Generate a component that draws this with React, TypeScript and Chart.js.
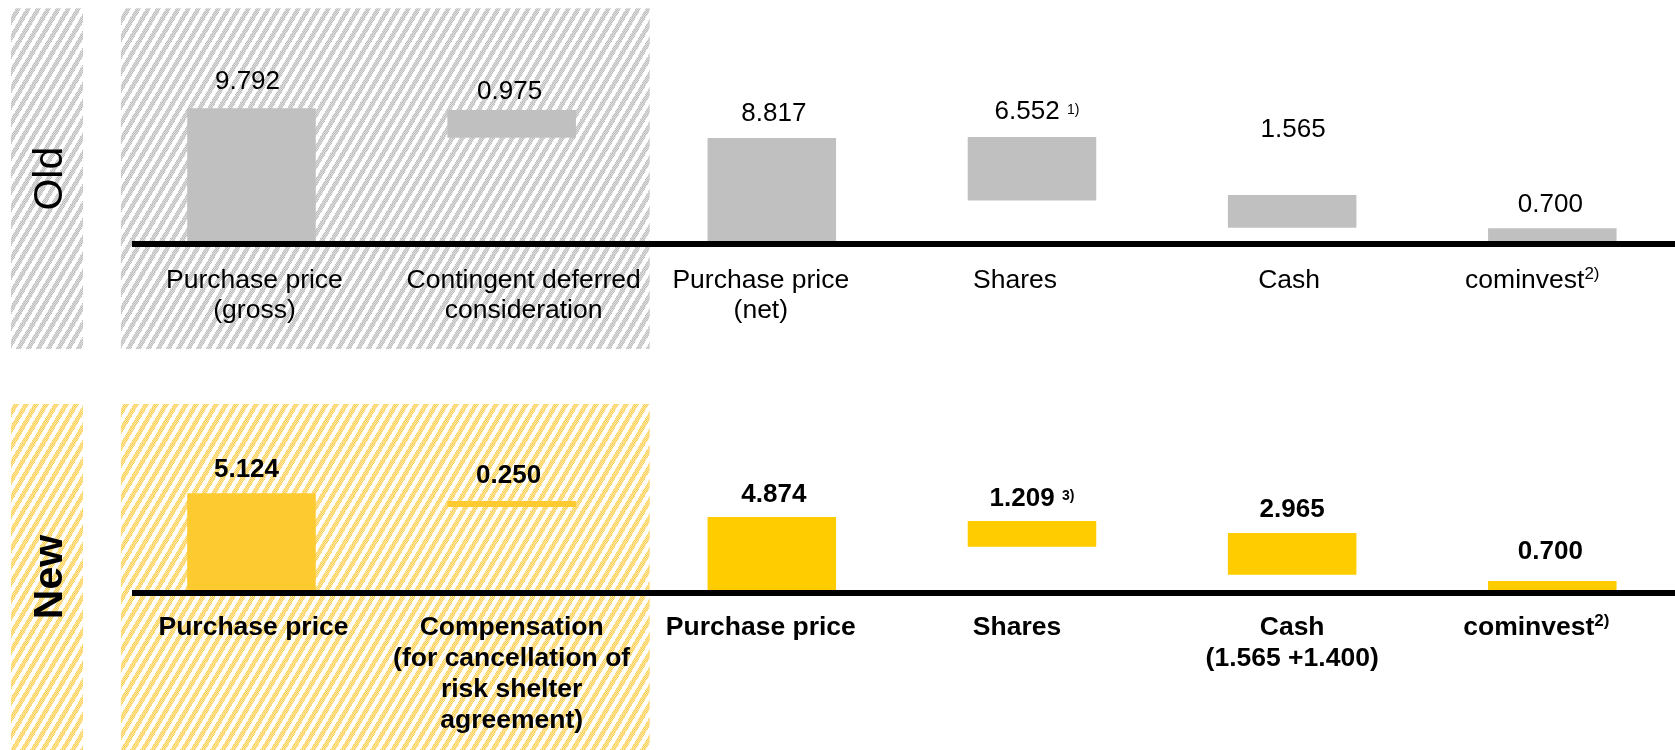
import React, { useEffect, useRef } from 'react';
import { Chart, registerables } from 'chart.js';

Chart.register(...registerables);

// ---------- DATA ----------
// category labels (lines; "^" starts a superscript)
const oldLabels: string[][] = [
  ['Purchase price', '(gross)'],
  ['Contingent deferred', 'consideration'],
  ['Purchase price', '(net)'],
  ['Shares'],
  ['Cash'],
  ['cominvest^2)'],
];
const newLabels: string[][] = [
  ['Purchase price'],
  ['Compensation', '(for cancellation of', 'risk shelter', 'agreement)'],
  ['Purchase price'],
  ['Shares'],
  ['Cash', '(1.565 +1.400)'],
  ['cominvest^2)'],
];

// amounts printed above the bars
const oldAmounts = [9.792, 0.975, 8.817, 6.552, 1.565, 0.7];
const newAmounts = [5.124, 0.25, 4.874, 1.209, 2.965, 0.7];
const oldNotes = ['', '', '', '1)', '', ''];
const newNotes = ['', '', '', '3)', '', ''];

// floating bar extents as drawn in the picture (chart units)
const oldBarLow = [0, 7.62, 0, 2.99, 0.98, 0];
const oldBarHigh = [9.792, 9.67, 7.6, 7.68, 3.39, 0.94];
const newBarLow = [0, 4.4, 0, 2.29, 0.81, 0];
const newBarHigh = [5.124, 4.72, 3.87, 3.66, 3.02, 0.48];

// value axis ranges
const oldScaleMax = 17.79;
const newScaleMax = 11.39;

// ---------- STYLE ----------
const FONT = '"Liberation Sans", Arial, Helvetica, sans-serif';
const CANVAS_W = 1700;
const CANVAS_H = 375;

type Panel = {
  side: string;
  bold: boolean;
  labels: string[][];
  amounts: number[];
  notes: string[];
  low: number[];
  high: number[];
  max: number;
  colors: string[];
  hatchA: string;
  hatchB: string;
  boxTop: number;
  boxBottom: number;
  padBottom: number;
  labelFirst: number;
  labelStep: number;
  valueGap: number[];
  valueDx: number[];
  labelDx: number[];
  valueSupRaise: number;
};

function fontStr(size: number, bold: boolean) {
  return `${bold ? 'bold ' : ''}${size}px ${FONT}`;
}

function drawRich(
  ctx: CanvasRenderingContext2D,
  text: string,
  cx: number,
  baseline: number,
  size: number,
  bold: boolean,
  supSize: number,
  supRaise: number
) {
  const parts = text.split('^');
  const main = parts[0];
  const sup = parts[1] || '';
  ctx.font = fontStr(size, bold);
  const w1 = ctx.measureText(main).width;
  let w2 = 0;
  if (sup) {
    ctx.font = fontStr(supSize, bold);
    w2 = ctx.measureText(sup).width;
  }
  const x0 = cx - (w1 + w2) / 2;
  ctx.textAlign = 'left';
  ctx.textBaseline = 'alphabetic';
  ctx.font = fontStr(size, bold);
  ctx.fillText(main, x0, baseline);
  if (sup) {
    ctx.font = fontStr(supSize, bold);
    ctx.fillText(sup, x0 + w1, baseline - supRaise);
  }
}

function makePattern(ctx: CanvasRenderingContext2D, a: string, b: string) {
  const w = 10;
  const h = 17;
  const tile = document.createElement('canvas');
  tile.width = w;
  tile.height = h;
  const tctx = tile.getContext('2d')!;
  const hex = (c: string) => [
    parseInt(c.slice(1, 3), 16),
    parseInt(c.slice(3, 5), 16),
    parseInt(c.slice(5, 7), 16),
  ];
  const ca = hex(a);
  const cb = hex(b);
  const img = tctx.createImageData(w, h);
  for (let y = 0; y < h; y++) {
    for (let x = 0; x < w; x++) {
      const u = (17 * x + 10 * y) % 170;
      const i = (y * w + x) * 4;
      let c = [255, 255, 255];
      if (u < 90) c = (x + y) % 2 === 0 ? ca : cb;
      img.data[i] = c[0];
      img.data[i + 1] = c[1];
      img.data[i + 2] = c[2];
      img.data[i + 3] = 255;
    }
  }
  tctx.putImageData(img, 0, 0);
  return ctx.createPattern(tile, 'repeat')!;
}

function panelPlugin(p: Panel) {
  return {
    id: 'panel' + p.side,
    beforeDatasetsDraw(chart: any) {
      const { ctx, chartArea } = chart;
      const catW = (chartArea.right - chartArea.left) / p.labels.length;
      const pat = makePattern(ctx, p.hatchA, p.hatchB);
      ctx.save();
      ctx.fillStyle = pat;
      ctx.fillRect(11, p.boxTop, 72, p.boxBottom - p.boxTop);
      const hl = chartArea.left - 0.5;
      const hr = chartArea.left + 2 * catW + 8;
      ctx.fillRect(hl, p.boxTop, hr - hl, p.boxBottom - p.boxTop);
      ctx.translate(47, (p.boxTop + p.boxBottom) / 2);
      ctx.rotate(-Math.PI / 2);
      ctx.fillStyle = '#000';
      ctx.font = fontStr(41, p.bold);
      ctx.textAlign = 'center';
      ctx.textBaseline = 'alphabetic';
      ctx.fillText(p.side, 0, 14.7);
      ctx.restore();
    },
    afterDatasetsDraw(chart: any) {
      const { ctx, chartArea } = chart;
      const xs = chart.scales.x;
      ctx.save();
      ctx.fillStyle = '#000';
      ctx.fillRect(132, chartArea.bottom, CANVAS_W, 6);
      const meta = chart.getDatasetMeta(0);
      meta.data.forEach((el: any, i: number) => {
        const top = Math.min(el.y, el.base);
        const txt = p.amounts[i].toFixed(3) + (p.notes[i] ? ' ^' + p.notes[i] : '');
        drawRich(ctx, txt, el.x + p.valueDx[i], top - p.valueGap[i], 26, p.bold, 14, p.valueSupRaise);
      });
      p.labels.forEach((lines, i) => {
        const cx = xs.getPixelForValue(i) + p.labelDx[i];
        lines.forEach((line, j) => {
          drawRich(ctx, line, cx, chartArea.bottom + p.labelFirst + j * p.labelStep, 26.5, p.bold, 17, 9);
        });
      });
      ctx.restore();
    },
  };
}

const panels: Panel[] = [
  {
    side: 'Old',
    bold: false,
    labels: oldLabels,
    amounts: oldAmounts,
    notes: oldNotes,
    low: oldBarLow,
    high: oldBarHigh,
    max: oldScaleMax,
    colors: ['#c0c0c0', '#c0c0c0', '#c0c0c0', '#c0c0c0', '#c0c0c0', '#c0c0c0'],
    hatchA: '#c0c0c0',
    hatchB: '#dcdcdc',
    boxTop: 8.3,
    boxBottom: 349,
    padBottom: CANVAS_H - 241,
    labelFirst: 47,
    labelStep: 29.5,
    valueGap: [19, 11, 17, 18, 58, 16],
    valueDx: [-4, -2, 2, 5, 1, -2],
    labelDx: [3, 12, -11, -17, -3, -20],
    valueSupRaise: 5,
  },
  {
    side: 'New',
    bold: true,
    labels: newLabels,
    amounts: newAmounts,
    notes: newNotes,
    low: newBarLow,
    high: newBarHigh,
    max: newScaleMax,
    colors: ['#fdca30', '#fdca30', '#ffcc00', '#ffcc00', '#ffcc00', '#ffcc00'],
    hatchA: '#fbd35a',
    hatchB: '#fee6a2',
    boxTop: 29,
    boxBottom: 375,
    padBottom: CANVAS_H - 215,
    labelFirst: 45,
    labelStep: 31,
    valueGap: [16, 18, 15, 15, 16, 22],
    valueDx: [-5, -3, 2, 0, 0, -2],
    labelDx: [2, 0, -11, -15, 0, -16],
    valueSupRaise: 6,
  },
];

function makeChart(canvas: HTMLCanvasElement, p: Panel) {
  return new Chart(canvas, {
    type: 'bar',
    data: {
      labels: p.labels.map((l) => l.join(' ').replace('^', '')),
      datasets: [
        {
          data: p.low.map((lo, i) => [lo, p.high[i]]) as any,
          backgroundColor: p.colors,
          borderWidth: 0,
          barPercentage: 0.494,
          categoryPercentage: 1,
        },
      ],
    },
    options: {
      animation: false,
      responsive: false,
      devicePixelRatio: 1,
      layout: { padding: { left: 121.4, right: CANVAS_W - 1682.4, top: 0, bottom: p.padBottom } },
      plugins: { legend: { display: false }, tooltip: { enabled: false } },
      scales: {
        x: { display: false, offset: true, grid: { display: false } },
        y: { display: false, min: 0, max: p.max, grid: { display: false } },
      },
    },
    plugins: [panelPlugin(p) as any],
  });
}

export default function App() {
  const r1 = useRef<HTMLCanvasElement>(null);
  const r2 = useRef<HTMLCanvasElement>(null);
  useEffect(() => {
    const c1 = makeChart(r1.current!, panels[0]);
    const c2 = makeChart(r2.current!, panels[1]);
    return () => {
      c1.destroy();
      c2.destroy();
    };
  }, []);
  const cs: React.CSSProperties = { position: 'absolute', left: 0, display: 'block' };
  return (
    <div
      style={{
        position: 'fixed',
        left: 0,
        top: 0,
        width: 1675,
        height: 750,
        overflow: 'hidden',
        background: '#ffffff',
      }}
    >
      <canvas ref={r1} width={CANVAS_W} height={CANVAS_H} style={{ ...cs, top: 0, width: CANVAS_W, height: CANVAS_H }} />
      <canvas ref={r2} width={CANVAS_W} height={CANVAS_H} style={{ ...cs, top: CANVAS_H, width: CANVAS_W, height: CANVAS_H }} />
    </div>
  );
}
